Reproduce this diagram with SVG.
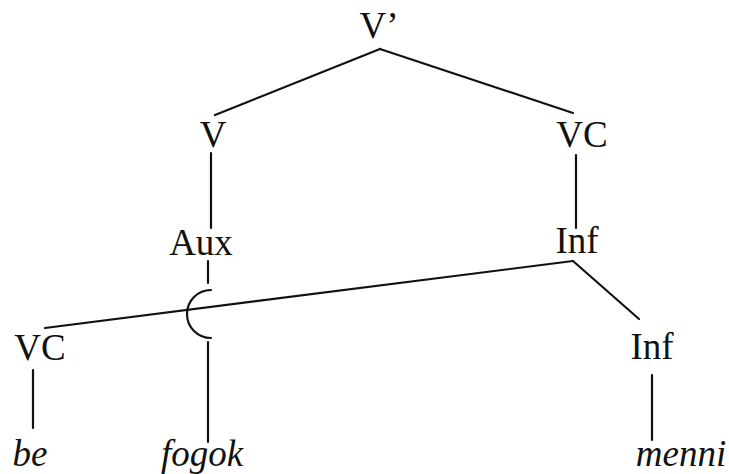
<svg xmlns="http://www.w3.org/2000/svg" width="729" height="474" viewBox="0 0 729 474">
<style>
.l{font-family:"Liberation Serif","DejaVu Serif",serif;font-size:37px;fill:#111;text-anchor:middle}
.w{font-style:italic}
.c{stroke:#111;stroke-width:2.2;fill:none;stroke-linecap:round}
</style>
<rect width="729" height="474" fill="#fff"/>
<g id="connectors" class="c">
<line x1="380" y1="49" x2="215" y2="115"/>
<line x1="380" y1="49" x2="573" y2="113"/>
<line x1="211" y1="153" x2="211" y2="228"/>
<line x1="576" y1="155" x2="576" y2="228"/>
<line x1="208" y1="261" x2="208" y2="283"/>
<path d="M211,290 A24,24 0 0 0 211,338"/>
<line x1="208" y1="342" x2="208" y2="442"/>
<line x1="45" y1="328" x2="573" y2="261"/>
<line x1="573" y1="261" x2="639" y2="319"/>
<line x1="33" y1="370" x2="33" y2="428"/>
<line x1="652" y1="375" x2="652" y2="440"/>
</g>
<g id="n-vbar"><text class="l" x="379" y="38">V’</text></g>
<g id="n-v"><text class="l" x="213" y="147">V</text></g>
<g id="n-vc1"><text class="l" x="582" y="147">VC</text></g>
<g id="n-aux"><text class="l" x="201" y="255">Aux</text></g>
<g id="n-inf1"><text class="l" x="577" y="253">Inf</text></g>
<g id="n-vc2"><text class="l" x="40" y="360">VC</text></g>
<g id="n-inf2"><text class="l" x="652" y="359">Inf</text></g>
<g id="n-be"><text class="l w" x="30" y="466">be</text></g>
<g id="n-fogok"><text class="l w" x="202" y="466">fogok</text></g>
<g id="n-menni"><text class="l w" x="681" y="466">menni</text></g>
</svg>
